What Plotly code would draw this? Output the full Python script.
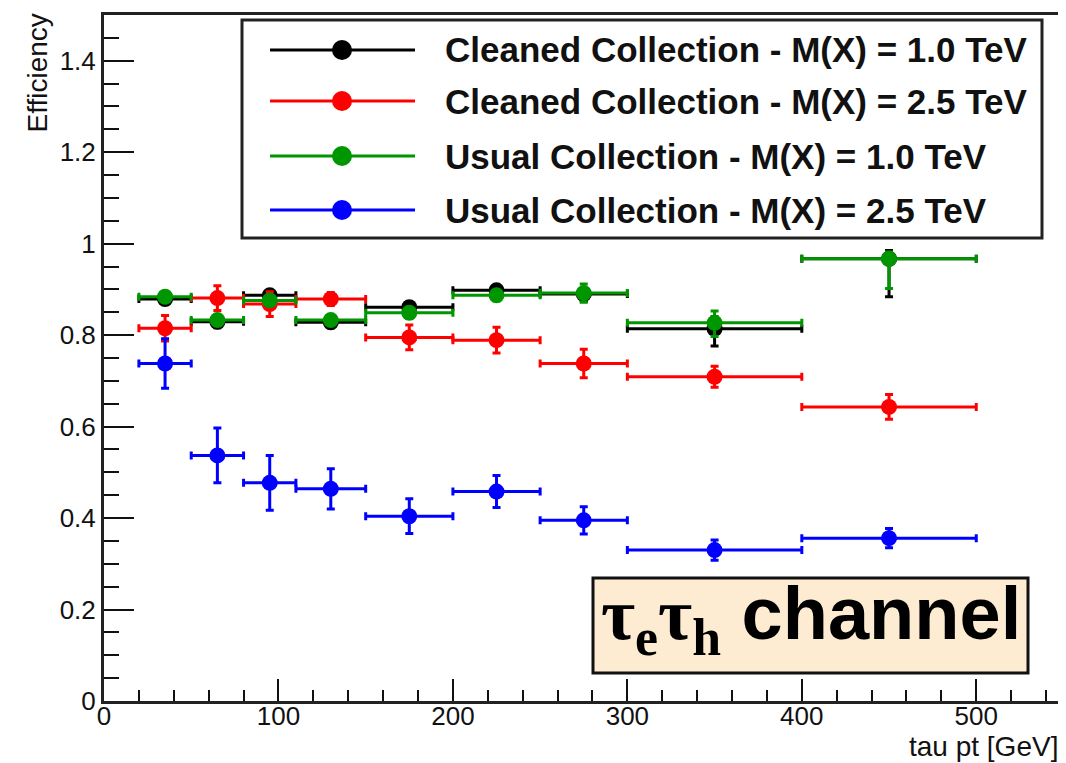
import plotly.graph_objects as go

# ---- data ----
bin_centers = [35, 65, 95, 130, 175, 225, 275, 350, 450]
bin_halfwidth = [15, 15, 15, 20, 25, 25, 25, 50, 50]

series_names = [
    "Cleaned Collection - M(X) = 1.0 TeV",
    "Cleaned Collection - M(X) = 2.5 TeV",
    "Usual Collection - M(X) = 1.0 TeV",
    "Usual Collection - M(X) = 2.5 TeV",
]
series_colors = ["#000000", "#ff0000", "#009600", "#0000ff"]

cleaned_1p0 = [0.879, 0.829, 0.887, 0.828, 0.861, 0.898, 0.890, 0.814, 0.967]
cleaned_1p0_up = [0.010, 0.012, 0.010, 0.011, 0.010, 0.010, 0.012, 0.026, 0.018]
cleaned_1p0_dn = [0.012, 0.013, 0.012, 0.012, 0.012, 0.012, 0.016, 0.038, 0.083]

cleaned_2p5 = [0.815, 0.881, 0.868, 0.879, 0.795, 0.789, 0.738, 0.709, 0.643]
cleaned_2p5_up = [0.028, 0.027, 0.027, 0.014, 0.027, 0.028, 0.031, 0.023, 0.027]
cleaned_2p5_dn = [0.028, 0.027, 0.027, 0.014, 0.027, 0.028, 0.031, 0.023, 0.027]

usual_1p0 = [0.884, 0.833, 0.876, 0.833, 0.849, 0.887, 0.892, 0.827, 0.967]
usual_1p0_up = [0.008, 0.010, 0.010, 0.010, 0.010, 0.010, 0.020, 0.026, 0.015]
usual_1p0_dn = [0.010, 0.012, 0.012, 0.012, 0.012, 0.012, 0.020, 0.030, 0.065]

usual_2p5 = [0.738, 0.537, 0.477, 0.464, 0.404, 0.458, 0.395, 0.330, 0.356]
usual_2p5_up = [0.054, 0.060, 0.060, 0.044, 0.038, 0.035, 0.030, 0.022, 0.021]
usual_2p5_dn = [0.054, 0.060, 0.060, 0.044, 0.038, 0.035, 0.030, 0.022, 0.021]

x_ticks = [0, 100, 200, 300, 400, 500]
y_ticks = [0, 0.2, 0.4, 0.6, 0.8, 1.0, 1.2, 1.4]
y_ticklabels = ["0", "0.2", "0.4", "0.6", "0.8", "1", "1.2", "1.4"]

x_title = "tau pt [GeV]"
y_title = "Efficiency"
box_label = ('<b><span style="font-family:Liberation Serif">τ<sub>e</sub>τ<sub>h</sub></span>'
             ' channel</b>')

values = [cleaned_1p0, cleaned_2p5, usual_1p0, usual_2p5]
ups = [cleaned_1p0_up, cleaned_2p5_up, usual_1p0_up, usual_2p5_up]
dns = [cleaned_1p0_dn, cleaned_2p5_dn, usual_1p0_dn, usual_2p5_dn]

# ---- figure ----
# the page body has an 8px margin, so the figure is drawn 8px right / 8px down
OFF = 8
PLOT_L, PLOT_R, PLOT_T, PLOT_B = 104, 1060, 15, 701   # page pixels of plot frame
W, H = 1058, 755
ML = PLOT_L - OFF
MT = PLOT_T - OFF
MR = W - (PLOT_R - OFF)
MB = H - (PLOT_B - OFF)
PW, PH = PLOT_R - PLOT_L, PLOT_B - PLOT_T


def px(xp):
    return (xp - PLOT_L) / PW


def py(yp):
    return (PLOT_B - yp) / PH


fig = go.Figure()
for name, col, v, u, d in zip(series_names, series_colors, values, ups, dns):
    fig.add_trace(go.Scatter(
        x=bin_centers, y=v, mode="markers", name=name,
        marker=dict(size=16, color=col, symbol="circle"),
        error_x=dict(type="data", array=bin_halfwidth, color=col, thickness=3, width=4),
        error_y=dict(type="data", array=u, arrayminus=d, color=col, thickness=3, width=4),
        showlegend=False, cliponaxis=False,
    ))

shapes = []
annotations = []

# legend box
shapes.append(dict(type="rect", xref="paper", yref="paper",
                   x0=px(242), x1=px(1042), y0=py(238), y1=py(20),
                   line=dict(color="#222222", width=3), fillcolor="white", layer="above"))
row_y = [50, 101, 156, 210]
for name, col, ry in zip(series_names, series_colors, row_y):
    shapes.append(dict(type="line", xref="paper", yref="paper",
                       x0=px(270), x1=px(415), y0=py(ry), y1=py(ry),
                       line=dict(color=col, width=3), layer="above"))
    r = 10
    shapes.append(dict(type="circle", xref="paper", yref="paper",
                       x0=px(342 - r), x1=px(342 + r), y0=py(ry + r), y1=py(ry - r),
                       line=dict(color=col, width=0), fillcolor=col, layer="above"))
    annotations.append(dict(xref="paper", yref="paper", x=px(443), y=py(ry),
                            xanchor="left", yanchor="middle", showarrow=False,
                            text="<b>" + name + "</b>",
                            font=dict(family="Liberation Sans", size=35, color="#111111")))

# channel box
shapes.append(dict(type="rect", xref="paper", yref="paper",
                   x0=px(593), x1=px(1028), y0=py(673), y1=py(578),
                   line=dict(color="#111111", width=3), fillcolor="#fdecd2", layer="above"))
annotations.append(dict(xref="paper", yref="paper", x=px(811), y=py(619),
                        xanchor="center", yanchor="middle", showarrow=False,
                        text=box_label,
                        font=dict(family="Liberation Sans", size=74, color="#000000")))

# axis titles
annotations.append(dict(xref="paper", yref="paper", x=1.0, y=py(746),
                        xanchor="right", yanchor="middle", showarrow=False,
                        text=x_title, font=dict(family="Liberation Sans", size=28, color="#111111")))
annotations.append(dict(xref="paper", yref="paper", x=px(37), y=py(12),
                        xanchor="center", yanchor="top", showarrow=False, textangle=-90,
                        text=y_title, font=dict(family="Liberation Sans", size=28, color="#111111")))

fig.update_layout(
    width=W, height=H,
    margin=dict(l=ML, r=MR, t=MT, b=MB, pad=0, autoexpand=False),
    paper_bgcolor="white", plot_bgcolor="white",
    font=dict(family="Liberation Sans", size=26, color="#111111"),
    shapes=shapes, annotations=annotations,
    xaxis=dict(range=[0, 548], tickvals=x_ticks, ticks="inside", ticklen=22, tickwidth=2,
               tickcolor="#111111", showline=True, linewidth=3, linecolor="#222222",
               mirror=True, showgrid=False, zeroline=False, automargin=False,
               ticklabelstandoff=-10,
               minor=dict(ticks="inside", dtick=20, ticklen=11, tickwidth=2, tickcolor="#111111",
                          showgrid=False),
               tickfont=dict(size=26)),
    yaxis=dict(range=[0, 1.5], tickvals=y_ticks, ticktext=y_ticklabels, ticks="inside",
               ticklen=30, tickwidth=2, tickcolor="#111111", showline=True, linewidth=3,
               linecolor="#222222", mirror=True, showgrid=False, zeroline=False,
               automargin=False,
               minor=dict(ticks="inside", dtick=0.05, ticklen=15, tickwidth=2,
                          tickcolor="#111111", showgrid=False),
               tickfont=dict(size=26)),
)

fig.write_html("out.html")
